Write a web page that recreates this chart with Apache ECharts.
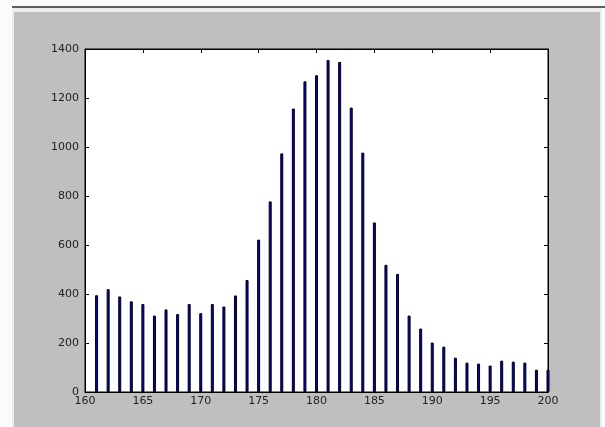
<!DOCTYPE html>
<html>
<head>
<meta charset="utf-8">
<script src="https://cdn.jsdelivr.net/npm/echarts@6/dist/echarts.min.js"></script>
<style>
html,body{margin:0;padding:0;background:#fbfbfb;}
#wrap{position:relative;width:605px;height:427px;overflow:hidden;}
#line{position:absolute;left:12px;top:6px;right:0;height:2px;background:#5f5f5f;}
#strip{position:absolute;left:12px;top:8px;right:3px;bottom:0;background:#ececec;}
#gray{position:absolute;left:14px;top:12px;right:5px;bottom:0;background:#bfbfbf;}
#chart{position:absolute;left:0;top:0;width:605px;height:427px;}
</style>
</head>
<body>
<div id="wrap">
<div id="line"></div>
<div id="strip"></div>
<div id="gray"></div>
<div id="chart"></div>
</div>
<script>
var categories = [161,162,163,164,165,166,167,168,169,170,171,172,173,174,175,176,177,178,179,180,181,182,183,184,185,186,187,188,189,190,191,192,193,194,195,196,197,198,199,200];
var counts = [395,420,390,370,359,312,337,318,359,322,359,349,394,457,622,778,974,1157,1268,1293,1355,1347,1161,977,692,519,482,312,259,202,185,140,120,116,108,128,124,120,91,91];
var xTicks = [160,200,5];
var yTicks = [0,1400,200];

var data = categories.map(function(c,i){return [c,counts[i]];});
var font = {fontFamily:'DejaVu Sans',fontSize:11,color:'#222'};
function plain(v){return String(v);}
function xa(pos,show){
  return {type:'value',position:pos,min:xTicks[0],max:xTicks[1],interval:xTicks[2],
    axisLine:{show:true,onZero:false,lineStyle:{color:'#000',width:1}},
    axisTick:{show:true,inside:true,length:4,lineStyle:{color:'#000'}},
    axisLabel:Object.assign({show:show,margin:4,formatter:plain},font),
    splitLine:{show:false}};
}
function ya(pos,show){
  return {type:'value',position:pos,min:yTicks[0],max:yTicks[1],interval:yTicks[2],
    axisLine:{show:true,lineStyle:{color:'#000',width:1}},
    axisTick:{show:true,inside:true,length:4,lineStyle:{color:'#000'}},
    axisLabel:Object.assign({show:show,margin:6,formatter:plain},font),
    splitLine:{show:false}};
}
var chart = echarts.init(document.getElementById('chart'),null,{renderer:'canvas'});
chart.setOption({
  backgroundColor:'transparent',
  animation:false,
  grid:{left:85,top:49,width:463,height:343,show:true,backgroundColor:'#fff',borderColor:'#000',borderWidth:1,containLabel:false},
  xAxis:[xa('bottom',true),xa('top',false)],
  yAxis:[ya('left',true),ya('right',false)],
  series:[{type:'bar',xAxisIndex:0,yAxisIndex:0,barWidth:3,data:data,
    itemStyle:{color:'#0000d0',borderColor:'#000',borderWidth:1}}]
});
</script>
</body>
</html>
